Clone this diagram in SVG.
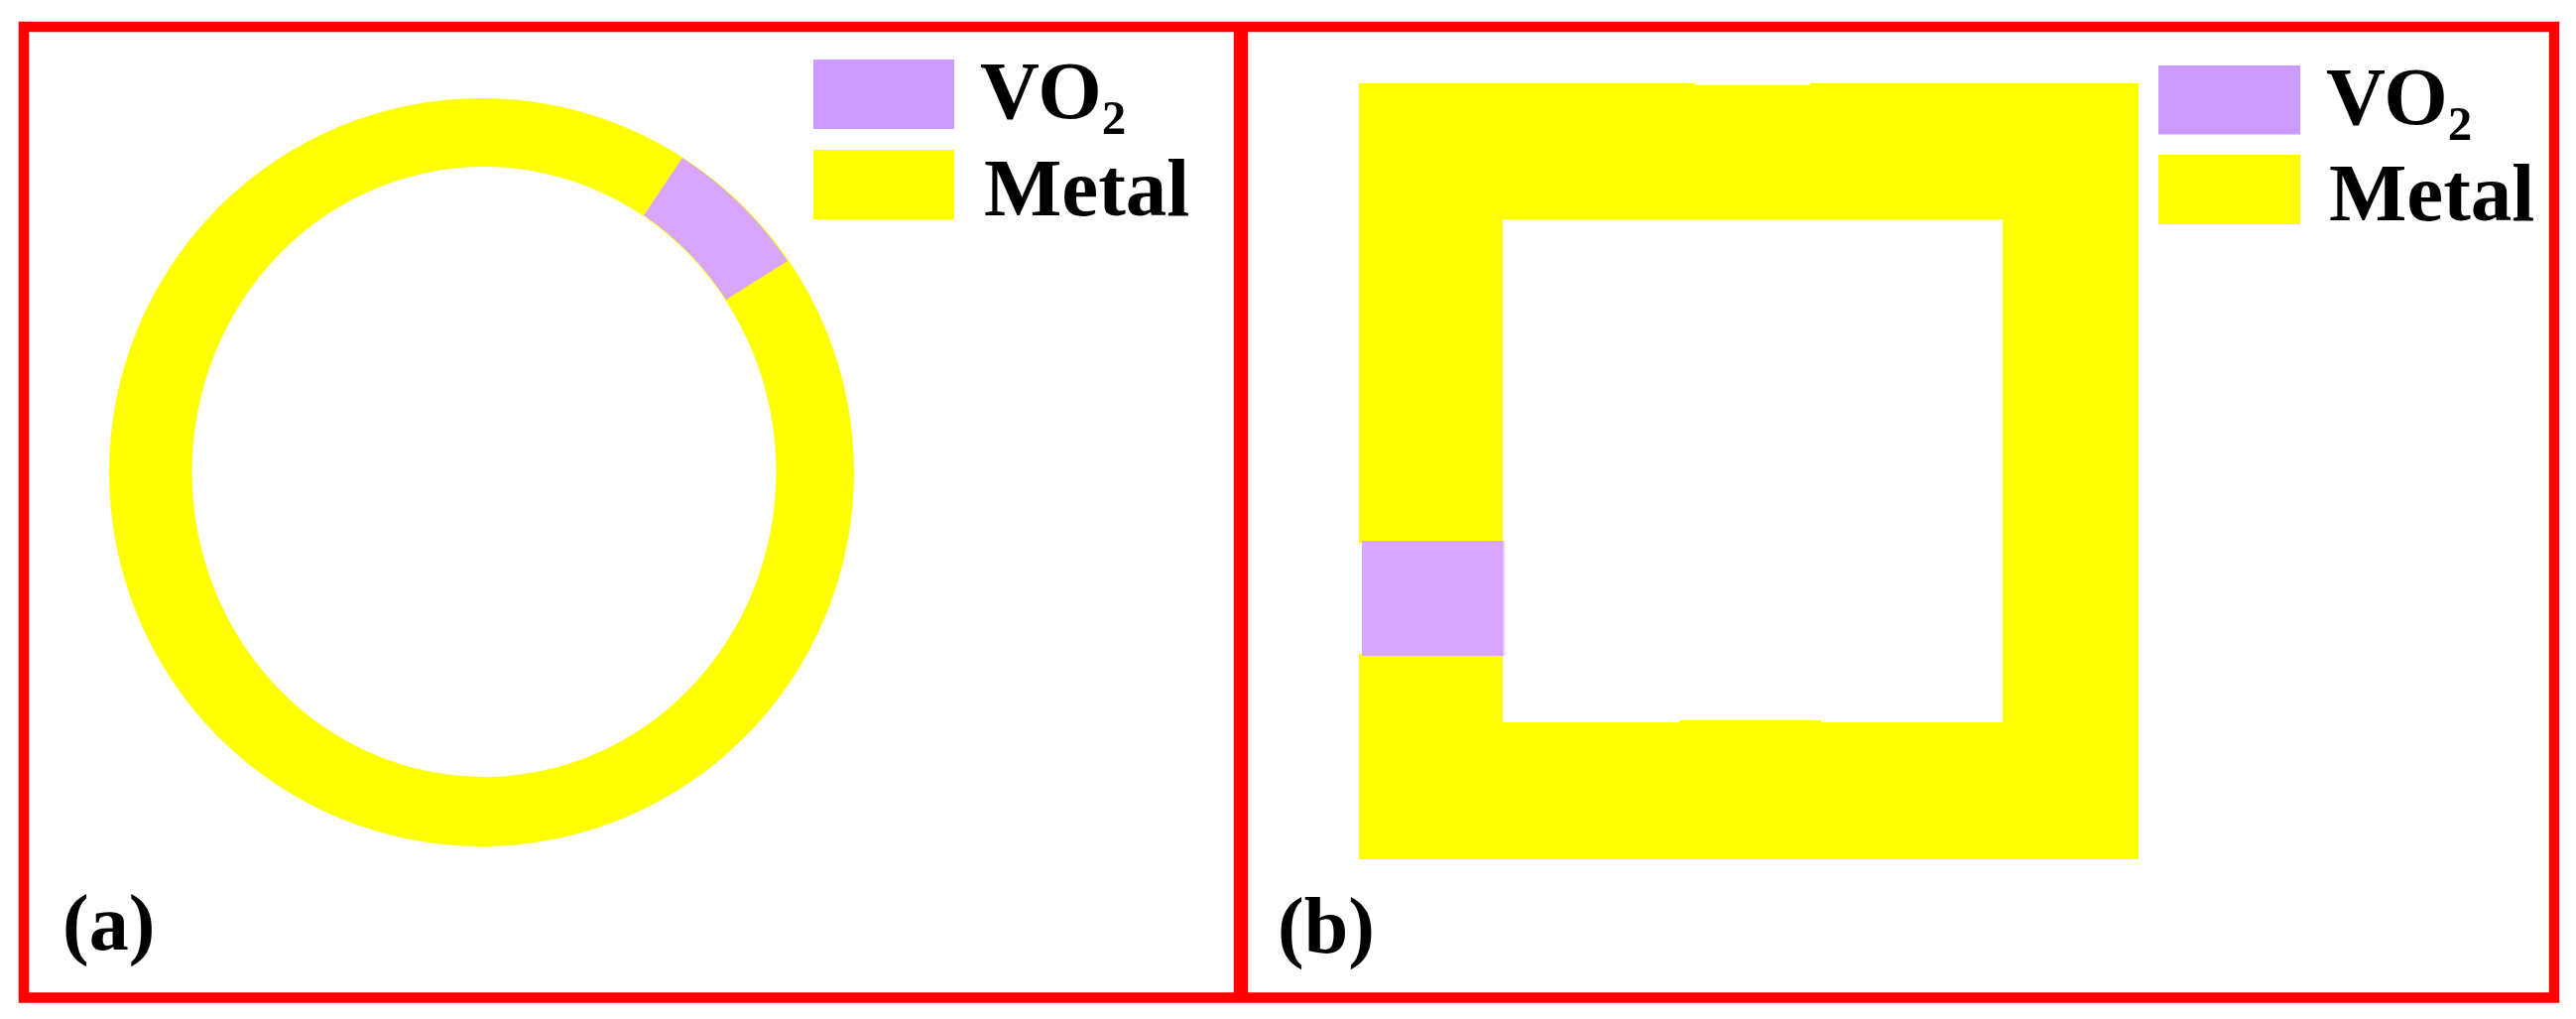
<svg xmlns="http://www.w3.org/2000/svg" width="2597" height="1027" viewBox="0 0 2597 1027">
<style>
.y{fill:#ffff00}
.p{fill:#d8a6ff}
.l{fill:#cc99ff}
.t{font-family:"Liberation Serif","Times New Roman",serif;font-weight:bold;fill:#000}
.b{font-size:83px}
.s{font-size:49px}
.c{font-size:80px}
</style>
<rect width="2597" height="1027" fill="#fff"/>
<g id="panel-a">
<path id="ring" class="y" fill-rule="evenodd" d="M110 476A375.500 377 0 1 1 861 476A375.500 377 0 1 1 110 476ZM193.500 475.500A294.500 307.500 0 1 0 782.500 475.500A294.500 307.500 0 1 0 193.500 475.500Z"/>
<path id="vo2-segment-a" class="p" d="M688 159A375.500 377 0 0 1 794 263L732 302A294.500 307.500 0 0 0 649 217Z"/>
<rect class="l" x="820" y="60" width="142" height="70"/>
<rect class="y" x="820" y="151" width="142" height="70"/>
<text class="t b" x="988" y="119">VO<tspan class="s" dy="16">2</tspan></text>
<text class="t b" x="992" y="217">Metal</text>
<text class="t c" x="63" y="957">(a)</text>
</g>
<g id="panel-b">
<path id="square" class="y" fill-rule="evenodd" d="M1370 84H1709V86H1825V84H2156V866H1370V659H1373V547H1370ZM1515 221V728H1693V726H1836V728H2019V221Z"/>
<rect x="1515" y="545" width="2.500" height="116" fill="#efdcff"/>
<rect id="vo2-segment-b" class="p" x="1373" y="545" width="142.500" height="116"/>
<rect class="l" x="2176" y="66" width="143" height="69.500"/>
<rect class="y" x="2176" y="156" width="143" height="70"/>
<text class="t b" x="2345" y="125">VO<tspan class="s" dy="16">2</tspan></text>
<text class="t b" x="2348" y="222">Metal</text>
<text class="t c" x="1288" y="960">(b)</text>
</g>
<g id="frame" fill="none" stroke="#ff0000">
<rect x="24" y="27" width="2551" height="978.500" stroke-width="10.500"/>
<line x1="1251" y1="27" x2="1251" y2="1005" stroke-width="14.500"/>
</g>
</svg>
